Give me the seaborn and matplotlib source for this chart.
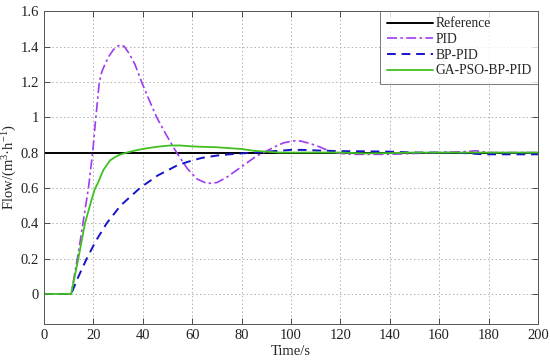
import matplotlib
matplotlib.use("Agg")
import matplotlib.pyplot as plt
import seaborn as sns

# time axis (s) and reference setpoint
ref_t = [0, 200]
ref_y = [0.8, 0.8]

pid_t = [0, 11, 14, 16, 18, 19.7, 21, 22.4, 23.5, 24.7, 26.3, 28, 29.5, 31, 32.5, 34.5,
         36.8, 39.5, 42.5, 45.6, 49.5, 53.7, 58, 62, 66, 70, 74, 78, 82, 86, 89, 93, 97,
         101, 104, 108, 112, 116, 120, 125, 130, 140, 150, 160, 170, 175, 180, 190, 200]
pid_y = [0, 0, 0.24, 0.42, 0.60, 0.80, 1.00, 1.20, 1.26, 1.30, 1.345, 1.38, 1.40, 1.41,
         1.40, 1.36, 1.30, 1.20, 1.10, 1.00, 0.90, 0.80, 0.71, 0.65, 0.625, 0.63, 0.66, 0.70,
         0.74, 0.78, 0.80, 0.83, 0.855, 0.866, 0.865, 0.85, 0.83, 0.805, 0.795, 0.79, 0.79,
         0.79, 0.795, 0.80, 0.805, 0.81, 0.80, 0.80, 0.80]

bp_t = [0, 11, 14, 17.3, 21, 25.4, 31, 38.9, 46, 54.3, 60, 64, 70, 75, 80, 85, 90, 95, 100,
        105, 110, 120, 130, 140, 150, 160, 170, 178, 190, 200]
bp_y = [0, 0, 0.10, 0.20, 0.30, 0.40, 0.50, 0.60, 0.67, 0.73, 0.755, 0.77, 0.783, 0.79,
        0.795, 0.80, 0.805, 0.81, 0.815, 0.815, 0.812, 0.808, 0.807, 0.805, 0.80, 0.80,
        0.797, 0.79, 0.79, 0.79]

ga_t = [0, 11, 13.9, 16.6, 19, 20.5, 22, 24, 26.7, 28.5, 30.5, 33.5, 38, 42, 46, 51, 55,
        60, 65, 70, 75, 80, 85, 90, 95, 100, 110, 120, 130, 140, 150, 160, 170, 180, 200]
ga_y = [0, 0, 0.20, 0.40, 0.52, 0.59, 0.634, 0.70, 0.755, 0.772, 0.787, 0.80, 0.815, 0.825,
        0.833, 0.84, 0.84, 0.835, 0.832, 0.83, 0.825, 0.82, 0.81, 0.805, 0.80, 0.80, 0.80,
        0.80, 0.795, 0.797, 0.80, 0.80, 0.80, 0.80, 0.80]

xticks = list(range(0, 201, 20))
yticks = [0, 0.2, 0.4, 0.6, 0.8, 1, 1.2, 1.4, 1.6]
ytick_labels = ["0", "0.2", "0.4", "0.6", "0.8", "1", "1.2", "1.4", "1.6"]

sns.set_style("ticks")
plt.rcParams["font.family"] = ["Liberation Serif", "DejaVu Serif"]
plt.rcParams["mathtext.fontset"] = "custom"
plt.rcParams["mathtext.rm"] = "Liberation Serif"
plt.rcParams["mathtext.it"] = "Liberation Serif:italic"
plt.rcParams["font.size"] = 10.5

fig = plt.figure(figsize=(5.5, 3.6), dpi=100)
ax = fig.add_axes([0.08, 0.1, 0.898, 0.869])

sns.lineplot(x=ref_t, y=ref_y, ax=ax, color="black", lw=1.4, label="Reference")
sns.lineplot(x=pid_t, y=pid_y, ax=ax, color="#a03cf0", lw=1.2, label="PID")
sns.lineplot(x=bp_t, y=bp_y, ax=ax, color="#1414c8", lw=1.4, label="BP-PID")
sns.lineplot(x=ga_t, y=ga_y, ax=ax, color="#40c020", lw=1.3, label="GA-PSO-BP-PID")
ax.lines[1].set_dashes([6, 2, 1.5, 2])
ax.lines[2].set_dashes([4.5, 3])

ax.set_xlim(0, 200)
ax.set_ylim(-0.17, 1.6)
ax.set_xticks(xticks)
ax.set_yticks(yticks)
ax.set_yticklabels(ytick_labels)
ax.grid(True, linestyle=(0, (1.5, 2.5)), color="#b0b0b0", lw=0.7)
ax.tick_params(direction="in", top=True, right=True, length=4, width=0.6, colors="#333333",
               labelcolor="#222222", labelsize=10.5)
for s in ax.spines.values():
    s.set_linewidth(0.7)
    s.set_color("#555555")
ax.set_xlabel("Time/s", fontsize=10.5, labelpad=2)
ax.set_ylabel("Flow/(m$^{3}$·h$^{-1}$)", fontsize=10.5, labelpad=1)

leg = ax.legend(loc="upper right", fontsize=9.8, frameon=True, fancybox=False,
                handlelength=3.4, handletextpad=0.2, borderpad=0.45, labelspacing=0.2,
                borderaxespad=0.0)
leg.get_frame().set_edgecolor("#555555")
leg.get_frame().set_linewidth(0.7)

fig.savefig("out.png", dpi=100)
